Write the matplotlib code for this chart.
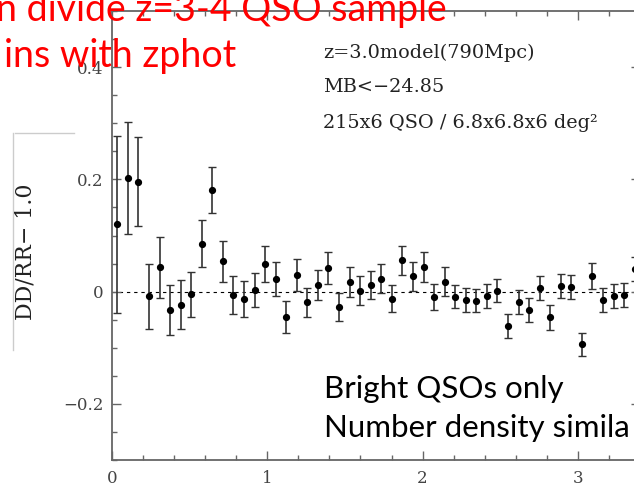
import matplotlib
matplotlib.use("Agg")
import matplotlib.pyplot as plt
from matplotlib.lines import Line2D
from matplotlib.ticker import MultipleLocator, FixedLocator

# angular separation bin centres (deg)
separation = [0.034, 0.102, 0.170, 0.238, 0.306, 0.374, 0.442, 0.510, 0.578, 0.646,
              0.714, 0.782, 0.850, 0.918, 0.986, 1.054, 1.122, 1.190, 1.258, 1.326,
              1.394, 1.462, 1.530, 1.598, 1.666, 1.734, 1.802, 1.870, 1.938, 2.006,
              2.074, 2.142, 2.210, 2.278, 2.346, 2.414, 2.482, 2.550, 2.618, 2.686,
              2.754, 2.822, 2.890, 2.958, 3.026, 3.094, 3.162, 3.230, 3.298, 3.366]

# DD/RR - 1 and its uncertainty
xi = [0.120, 0.203, 0.196, -0.008, 0.043, -0.033, -0.023, -0.005, 0.085, 0.181,
      0.054, -0.006, -0.013, 0.003, 0.049, 0.022, -0.045, 0.030, -0.019, 0.012,
      0.042, -0.028, 0.017, 0.002, 0.012, 0.023, -0.013, 0.056, 0.027, 0.044,
      -0.009, 0.018, -0.009, -0.015, -0.016, -0.008, 0.002, -0.061, -0.018, -0.033,
      0.006, -0.046, 0.010, 0.008, -0.094, 0.028, -0.015, -0.008, -0.006, 0.040]
xi_err = [0.158, 0.100, 0.079, 0.058, 0.054, 0.045, 0.044, 0.040, 0.042, 0.041,
          0.037, 0.033, 0.032, 0.031, 0.032, 0.030, 0.028, 0.029, 0.026, 0.027,
          0.029, 0.025, 0.027, 0.025, 0.025, 0.026, 0.024, 0.026, 0.025, 0.026,
          0.023, 0.025, 0.021, 0.022, 0.021, 0.022, 0.021, 0.022, 0.021, 0.022,
          0.021, 0.022, 0.022, 0.021, 0.021, 0.023, 0.021, 0.021, 0.021, 0.021]

x_ticks = [0, 1, 2, 3]
x_ticklabels = ["0", "1", "2", "3"]
y_ticks = [-0.2, 0.0, 0.2, 0.4]
y_ticklabels = ["\u22120.2", "0", "0.2", "0.4"]

W, H = 634, 486
fig = plt.figure(figsize=(W / 100, H / 100), dpi=100)
fig.patch.set_facecolor("white")

def fx(px):
    return px / W

def fy(py):
    return 1 - py / H

# axes box: frame runs a little past the right edge of the figure
ax = fig.add_axes([fx(112), fy(460), 528 / W, 449 / H])
ax.set_xlim(0, 3.4)
ax.set_ylim(-0.3, 0.5)

frame_col = "#666666"
for s in ax.spines.values():
    s.set_color(frame_col)
    s.set_linewidth(1.3)

ax.axhline(0, color="black", lw=0.8, ls=(0, (3, 3.5)), zorder=1)

ax.errorbar(separation, xi, yerr=xi_err, fmt="o", color="black", ms=4.2,
            ecolor="#333333", elinewidth=1.2, capsize=2.6, capthick=1.0, zorder=3)

serif = "DejaVu Serif"
ax.xaxis.set_major_locator(FixedLocator(x_ticks))
ax.yaxis.set_major_locator(FixedLocator(y_ticks))
ax.xaxis.set_minor_locator(MultipleLocator(0.2))
ax.yaxis.set_minor_locator(MultipleLocator(0.05))
ax.set_xticklabels(x_ticklabels, family=serif, fontsize=12, color="#444444")
ax.set_yticklabels(y_ticklabels, family=serif, fontsize=12, color="#444444")
ax.tick_params(which="both", direction="in", top=True, right=True,
               color=frame_col, width=1.0)
ax.tick_params(which="major", length=6.5)
ax.tick_params(which="minor", length=3.6)
ax.tick_params(axis="y", pad=6)
ax.tick_params(axis="x", pad=7)

# annotation block inside the plot
ann_kw = dict(family=serif, fontsize=13.9, color="#222222", va="baseline", ha="left")
fig.text(fx(323), fy(58), "z=3.0model(790Mpc)", **ann_kw)
fig.text(fx(323), fy(92), "MB<\u221224.85", **ann_kw)
fig.text(fx(323), fy(128), "215x6 QSO / 6.8x6.8x6 deg\u00b2", **ann_kw)

# y label
fig.text(fx(25), fy(252), "DD/RR\u2212 1.0", family=serif, fontsize=15.8,
         color="#222222", rotation=90, ha="center", va="center")

# thin grey box edge beside the y label
fig.add_artist(Line2D([fx(15), fx(74)], [fy(133), fy(133)], color="#cccccc",
                      lw=1.0, transform=fig.transFigure))
fig.add_artist(Line2D([fx(13), fx(13)], [fy(133), fy(350)], color="#cccccc",
                      lw=1.0, transform=fig.transFigure))

# slide captions
red_kw = dict(family="Lato", fontsize=27, color="#ff0000", va="baseline", ha="right",
              zorder=10)
fig.text(fx(447), fy(21), "n divide z=3-4 QSO sample", **red_kw)
fig.text(fx(236), fy(67), "ins with zphot", **red_kw)

blk_kw = dict(family="Lato", fontsize=22.5, color="black", va="baseline", ha="left",
              zorder=10)
fig.text(fx(324), fy(398), "Bright QSOs only", **blk_kw)
fig.text(fx(324), fy(437), "Number density simila", **blk_kw)

fig.savefig("out.png", dpi=100)
